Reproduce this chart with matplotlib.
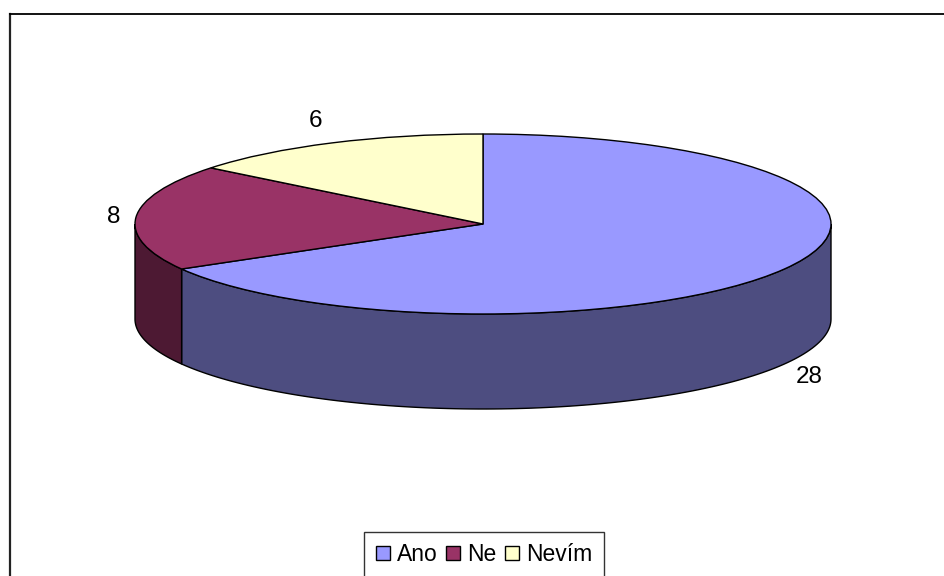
import numpy as np
import matplotlib
matplotlib.use('Agg')
import matplotlib.pyplot as plt
from matplotlib.lines import Line2D

labels = ['Ano', 'Ne', 'Nevím']
values = [28, 8, 6]
top_colors = ['#9999FF', '#993366', '#FFFFCC']
side_colors = ['#4D4D80', '#4D1933', '#808066']

W, H = 944, 576
CX, CY = 483, 224
RX, RY = 348, 90
DEPTH = 95 / RY

plt.rcParams['font.family'] = ['Liberation Sans', 'DejaVu Sans']


def draw_sides(ax):
    # clockwise from 12 o'clock, only the front half of the rim shows
    start = 90.0
    for value, color in zip(values, side_colors):
        end = start - value / sum(values) * 360
        a1 = start % 360
        a2 = a1 - (start - end)
        lo, hi = max(a2, -180), min(a1, 0)
        if a1 > 180:
            lo, hi = max(a2, 180), a1
        if lo < hi and (hi <= 0 or lo >= 180):
            t = np.radians(np.linspace(lo, hi, 120))
            xs = np.cos(t)
            ys = np.sin(t)
            ax.fill(np.r_[xs, xs[::-1]], np.r_[ys, ys[::-1] - DEPTH],
                    facecolor=color, edgecolor='black', linewidth=1, zorder=1)
        start = end


fig = plt.figure(figsize=(W / 100, H / 100), dpi=100)
ax = fig.add_axes([0, 0, 1, 1])

draw_sides(ax)
wedges, _ = ax.pie(values, colors=top_colors, startangle=90, counterclock=False,
                   radius=1, wedgeprops={'edgecolor': 'black', 'linewidth': 1, 'zorder': 2})
ax.set_aspect('auto')
ax.set_xlim(-CX / RX, (W - CX) / RX)
ax.set_ylim((CY - H) / RY, CY / RY)
ax.axis('off')

# data labels, placed in pixels
label_pos = [(315, 121), (114, 217), (809, 377)]
for v, (px, py) in zip([6, 8, 28], label_pos):
    fig.text(px / W, 1 - py / H, str(v), fontsize=17.5, ha='center', va='center', color='black')

# chart area border: only left and top are inside the crop
fig.add_artist(Line2D([9.5 / W, 9.5 / W], [0, 1 - 14 / H], color='#222222', lw=1.6))
fig.add_artist(Line2D([9.5 / W, 1], [1 - 14 / H, 1 - 14 / H], color='black', lw=1.3))

leg = fig.legend(wedges, labels, ncol=3, loc='center',
                 bbox_to_anchor=(484 / W, 1 - 554.5 / H), fontsize=16.5,
                 fancybox=False, framealpha=1, edgecolor='#333333',
                 handlelength=0.62, handleheight=0.62, handletextpad=0.32,
                 columnspacing=0.35, borderpad=0.5, borderaxespad=0)
leg.get_frame().set_linewidth(1)

fig.savefig('out.png', dpi=100)
